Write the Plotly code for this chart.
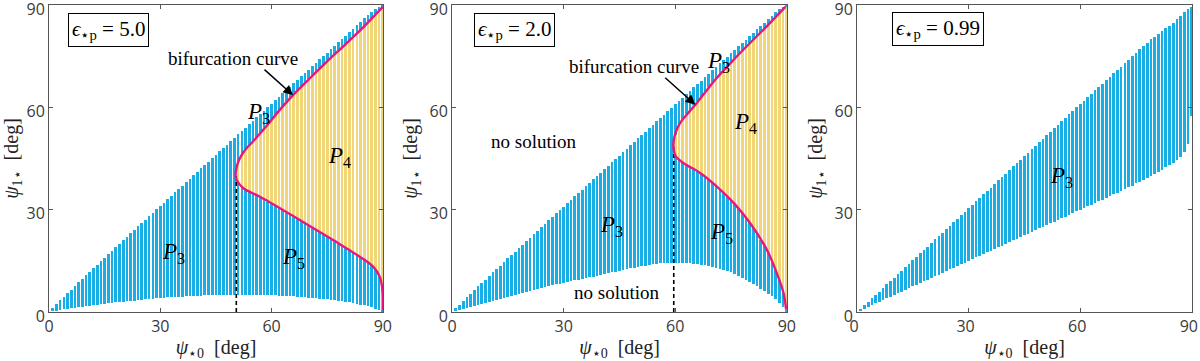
import plotly.graph_objects as go
from plotly.subplots import make_subplots

# ---------------- data ----------------
psi0 = list(range(1, 91))

# panel 1: eps = 5.0
upper_1 = [1.2, 2.3, 3.4, 4.5, 5.5, 6.6, 7.6, 8.7, 9.7, 10.8, 11.8, 12.8, 13.9, 14.9, 15.9,
           17.0, 18.0, 19.0, 20.0, 21.1, 22.1, 23.1, 24.1, 25.1, 26.1, 27.1, 28.1, 29.1, 30.1,
           31.1, 32.1, 33.1, 34.1, 35.1, 36.1, 37.1, 38.1, 39.1, 40.1, 41.1, 42.1, 43.1, 44.1,
           45.1, 46.1, 47.1, 48.1, 49.1, 50.1, 51.1, 52.1, 53.1, 54.1, 55.1, 56.1, 57.1, 58.1,
           59.1, 60.1, 61.1, 62.1, 63.1, 64.1, 65.1, 66.1, 67.1, 68.1, 69.1, 70.1, 71.1, 72.1,
           73.1, 74.1, 75.1, 76.1, 77.1, 78.1, 79.1, 80.1, 81.1, 82.1, 83.1, 84.1, 85.1, 86.1,
           87.1, 88.1, 89.0, 89.6, 90.0]
lower_1 = [0.2, 0.4, 0.6, 0.8, 1.0, 1.1, 1.3, 1.4, 1.6, 1.7, 1.9, 2.0, 2.2, 2.3, 2.4, 2.6, 2.7,
           2.8, 2.9, 3.0, 3.1, 3.2, 3.3, 3.5, 3.6, 3.7, 3.8, 3.9, 4.0, 4.1, 4.2, 4.3, 4.3, 4.4,
           4.5, 4.5, 4.6, 4.7, 4.7, 4.8, 4.8, 4.9, 4.9, 5.0, 5.0, 5.0, 5.1, 5.1, 5.1, 5.1, 5.1,
           5.1, 5.1, 5.1, 5.1, 5.0, 5.0, 5.0, 5.0, 4.9, 4.9, 4.8, 4.8, 4.7, 4.6, 4.6, 4.5, 4.4,
           4.3, 4.2, 4.1, 4.0, 3.9, 3.8, 3.7, 3.5, 3.4, 3.3, 3.1, 3.0, 2.8, 2.6, 2.4, 2.2, 2.0,
           1.7, 1.4, 1.0, 0.6, 0.0]
bif_x_1 = list(range(51, 91))
bif_hi_1 = [44.2, 46.2, 47.7, 48.9, 50.0, 51.3, 52.5, 53.8, 55.0, 56.3, 57.7, 59.0, 60.2, 61.4,
            62.6, 63.8, 64.9, 66.0, 67.1, 68.2, 69.3, 70.3, 71.4, 72.4, 73.5, 74.5, 75.6, 76.6,
            77.6, 78.6, 79.6, 80.7, 81.7, 82.8, 83.8, 84.9, 86.1, 87.2, 88.3, 89.5]
bif_lo_1 = [38.0, 36.7, 36.0, 35.4, 34.8, 34.3, 33.7, 33.1, 32.4, 31.8, 31.2, 30.6, 29.9, 29.3,
            28.7, 28.0, 27.4, 26.7, 26.1, 25.4, 24.8, 24.1, 23.5, 22.8, 22.2, 21.5, 20.8, 20.2,
            19.5, 18.8, 18.1, 17.4, 16.7, 16.0, 15.3, 14.5, 13.7, 12.4, 10.2, 0.5]
curve_x_1 = [90.0, 89.9, 89.2, 87.4, 83.8, 76.6, 67.6, 56.9, 52.4, 50.6, 50.3, 50.6, 51.2, 52.2,
             53.5, 55.0, 57.0, 59.0, 62.0, 65.8, 70.0, 75.0, 80.0, 85.0, 88.0, 90.0]
curve_y_1 = [0.6, 6.4, 10.3, 13.3, 16.2, 21.1, 27.0, 33.8, 36.3, 38.7, 40.0, 42.5, 44.5, 46.5,
             48.3, 50.0, 52.5, 55.0, 59.0, 63.6, 68.2, 73.5, 78.6, 83.8, 87.2, 89.5]
nose_1 = (50.5, 40.0)

# panel 2: eps = 2.0
upper_2 = [1.1, 2.2, 3.3, 4.3, 5.4, 6.4, 7.5, 8.5, 9.5, 10.6, 11.6, 12.6, 13.6, 14.7, 15.7,
           16.7, 17.7, 18.7, 19.8, 20.8, 21.8, 22.8, 23.8, 24.8, 25.9, 26.9, 27.9, 28.9, 29.9,
           30.9, 31.9, 32.9, 33.9, 34.9, 35.9, 36.9, 37.9, 38.9, 39.9, 40.9, 41.9, 42.9, 43.9,
           44.9, 45.9, 46.9, 47.9, 48.9, 49.9, 50.9, 51.9, 52.9, 53.9, 54.9, 55.9, 56.9, 57.9,
           58.9, 59.9, 60.9, 61.9, 62.9, 63.9, 64.9, 65.9, 66.9, 67.9, 68.9, 69.9, 70.9, 71.9,
           72.9, 73.9, 74.9, 75.9, 76.9, 77.9, 78.9, 79.9, 80.9, 81.9, 82.9, 83.9, 84.9, 85.9,
           86.9, 87.9, 88.8, 89.5, 90.0]
lower_2 = [0.3, 0.6, 0.9, 1.2, 1.5, 1.8, 2.1, 2.4, 2.7, 3.0, 3.3, 3.6, 3.9, 4.2, 4.5, 4.8, 5.1,
           5.4, 5.7, 6.0, 6.3, 6.6, 6.8, 7.1, 7.3, 7.6, 7.8, 8.1, 8.3, 8.6, 8.8, 9.0, 9.3, 9.5,
           9.7, 10.0, 10.2, 10.4, 10.7, 10.9, 11.1, 11.4, 11.6, 11.8, 12.1, 12.3, 12.5, 12.8,
           13.0, 13.2, 13.4, 13.6, 13.8, 14.0, 14.2, 14.3, 14.4, 14.5, 14.5, 14.5, 14.5, 14.4,
           14.4, 14.3, 14.2, 14.0, 13.9, 13.7, 13.5, 13.3, 13.0, 12.7, 12.4, 12.0, 11.6, 11.2,
           10.7, 10.1, 9.5, 8.9, 8.2, 7.5, 6.8, 6.1, 5.4, 4.6, 3.7, 2.7, 1.5, 0.0]
bif_x_2 = list(range(60, 91))
bif_hi_2 = [52.0, 54.6, 56.5, 58.0, 59.3, 60.6, 61.9, 63.2, 64.6, 66.0, 67.4, 68.7, 69.9, 71.1,
            72.2, 73.3, 74.4, 75.5, 76.6, 77.7, 78.8, 79.9, 81.0, 82.1, 83.2, 84.2, 85.3, 86.4,
            87.5, 88.6, 89.6]
bif_lo_2 = [45.6, 44.6, 43.8, 43.1, 42.5, 41.9, 41.3, 40.6, 39.8, 39.0, 38.0, 37.0, 35.9, 34.9,
            33.8, 32.8, 31.6, 30.4, 29.1, 27.7, 26.3, 24.7, 23.0, 21.2, 19.3, 17.2, 14.9, 12.3,
            9.3, 5.9, 0.5]
curve_x_2 = [89.8, 89.1, 87.3, 84.6, 80.1, 75.7, 71.2, 66.7, 62.2, 60.1, 59.5, 59.8, 60.6, 61.8,
             63.5, 65.4, 68.0, 71.2, 75.7, 80.1, 84.6, 89.6]
curve_y_2 = [0.7, 5.6, 11.4, 18.3, 26.1, 32.0, 36.8, 40.8, 43.7, 45.8, 48.6, 51.5, 54.0, 56.2,
             58.4, 60.8, 64.4, 68.7, 74.0, 78.9, 83.8, 89.5]
nose_2 = (59.6, 48.6)

# panel 3: eps = 0.99
upper_3 = [1.0, 2.0, 3.0, 4.0, 5.0, 6.0, 7.1, 8.1, 9.1, 10.1, 11.1, 12.1, 13.1, 14.2, 15.2,
           16.2, 17.2, 18.2, 19.2, 20.3, 21.3, 22.3, 23.3, 24.3, 25.3, 26.4, 27.4, 28.4, 29.4,
           30.4, 31.4, 32.5, 33.5, 34.5, 35.5, 36.5, 37.6, 38.6, 39.6, 40.6, 41.6, 42.7, 43.7,
           44.7, 45.7, 46.7, 47.8, 48.8, 49.8, 50.8, 51.8, 52.9, 53.9, 54.9, 55.9, 56.9, 58.0,
           59.0, 60.0, 61.0, 62.0, 63.0, 64.0, 65.0, 66.0, 67.0, 68.0, 69.0, 70.0, 71.0, 72.0,
           73.0, 74.0, 75.0, 76.0, 77.0, 78.0, 79.0, 80.0, 80.8, 81.6, 82.4, 83.2, 84.0, 84.8,
           85.8, 86.9, 88.0, 89.0, 89.6]
lower_3 = [0.5, 1.0, 1.5, 2.0, 2.5, 3.0, 3.5, 4.0, 4.5, 5.0, 5.5, 6.0, 6.5, 7.0, 7.5, 8.0, 8.5,
           9.0, 9.5, 10.0, 10.5, 11.0, 11.5, 12.0, 12.5, 13.0, 13.5, 14.0, 14.5, 15.0, 15.5,
           16.0, 16.5, 17.0, 17.5, 18.0, 18.5, 19.0, 19.5, 20.0, 20.5, 21.0, 21.5, 22.0, 22.5,
           23.0, 23.5, 24.0, 24.5, 25.0, 25.5, 26.0, 26.5, 27.0, 27.5, 28.0, 28.5, 29.0, 29.5,
           30.0, 30.5, 31.0, 31.5, 32.0, 32.5, 33.0, 33.5, 34.0, 34.5, 35.0, 35.5, 36.0, 36.6,
           37.1, 37.7, 38.2, 38.8, 39.3, 39.9, 40.5, 41.1, 41.7, 42.4, 43.1, 43.8, 44.6, 45.6,
           47.0, 49.3, 57.5]

eps_labels = ["5.0", "2.0", "0.99"]
tick_vals = [0, 30, 60, 90]
axis_range = [0, 90.05]

# ---------------- style ----------------
BLUE = "#19ade6"
YELLOW = "#f0d678"
MAGENTA = "#e8177f"
FRAME = "#555555"
SERIF = "Liberation Serif, DejaVu Serif, serif"
SANS = "Open Sans, Noto Sans, sans-serif"
BAR_W = 0.72

fig = make_subplots(rows=1, cols=3)

def add_bars(col, xs, lo, hi, color):
    fig.add_trace(go.Bar(x=xs, y=[h - l for l, h in zip(lo, hi)], base=lo, width=BAR_W,
                         marker=dict(color=color, line=dict(width=0)),
                         showlegend=False, hoverinfo="skip"), row=1, col=col)

add_bars(1, psi0, lower_1, upper_1, BLUE)
add_bars(1, bif_x_1, bif_lo_1, bif_hi_1, YELLOW)
add_bars(2, psi0, lower_2, upper_2, BLUE)
add_bars(2, bif_x_2, bif_lo_2, bif_hi_2, YELLOW)
add_bars(3, psi0, lower_3, upper_3, BLUE)

for col, (cx, cy), nose in [(1, (curve_x_1, curve_y_1), nose_1), (2, (curve_x_2, curve_y_2), nose_2)]:
    fig.add_trace(go.Scatter(x=[nose[0], nose[0]], y=[0, nose[1]], mode="lines",
                             line=dict(color="black", width=1.6, dash="4px,3px"),
                             showlegend=False, hoverinfo="skip"), row=1, col=col)
    fig.add_trace(go.Scatter(x=cx, y=cy, mode="lines", line=dict(color=MAGENTA, width=2.4, shape="spline"),
                             showlegend=False, hoverinfo="skip"), row=1, col=col)

domains = [[0.0, 0.2922], [0.3526, 0.6457], [0.7069, 1.0]]
for i in range(3):
    xa = "xaxis" if i == 0 else f"xaxis{i+1}"
    ya = "yaxis" if i == 0 else f"yaxis{i+1}"
    common = dict(range=axis_range, tickvals=tick_vals, automargin=False, ticklabeloverflow="allow",
                  ticks="inside", ticklen=4, tickcolor=FRAME, showline=True, linecolor=FRAME,
                  linewidth=1, mirror="allticks", showgrid=False, zeroline=False,
                  tickfont=dict(family=SANS, size=16, color="#3a3a3a"))
    fig.layout[xa].update(domain=domains[i], **common,
                          title=dict(text="<i>ψ</i><sub>⋆0</sub>  [deg]", standoff=4,
                                     font=dict(family=SERIF, size=20, color="#222222")))
    fig.layout[ya].update(**common, ticklabelshift=4,
                          title=dict(text="<i>ψ</i><sub>1⋆</sub>  [deg]", standoff=6,
                                     font=dict(family=SERIF, size=20, color="#222222")))
fig.layout.xaxis3.update(ticklabelshift=-3)

# epsilon boxes
eps_pos = [(16.0, 82.6), (16.8, 82.6), (21.8, 83.0)]
for i, (lab, (ex, ey)) in enumerate(zip(eps_labels, eps_pos)):
    fig.add_annotation(x=ex, y=ey, xref=f"x{i+1 if i else ''}", yref=f"y{i+1 if i else ''}",
                       text=f"<i>ϵ</i><sub>⋆p</sub> = {lab}", showarrow=False,
                       font=dict(family=SERIF, size=21, color="black"),
                       bordercolor="black", borderwidth=1, borderpad=3, bgcolor="white")

def label(col, x, y, text, size=23):
    ref = "" if col == 1 else str(col)
    fig.add_annotation(x=x, y=y, xref=f"x{ref}", yref=f"y{ref}", text=text, showarrow=False,
                       font=dict(family=SERIF, size=size, color="black"))

P = lambda n: f"<i>P</i><sub>{n}</sub>"
label(1, 56.4, 58.3, P(3)); label(1, 78.4, 45.5, P(4)); label(1, 33.5, 17.2, P(3)); label(1, 65.8, 15.7, P(5))
label(1, 49.7, 74.4, "bifurcation curve", 19)
label(2, 71.5, 73.4, P(3)); label(2, 78.8, 55.5, P(4)); label(2, 43.0, 25.1, P(3)); label(2, 72.5, 23.2, P(5))
label(2, 48.8, 72.0, "bifurcation curve", 19)
label(2, 21.9, 50.0, "no solution", 19); label(2, 44.2, 5.7, "no solution", 19)
label(3, 55.0, 39.7, P(3))

arrows = [(1, 57.7, 71.5, 65.8, 63.6), (2, 56.9, 69.1, 65.4, 60.8)]
for col, x0, y0, x1, y1 in arrows:
    ref = "" if col == 1 else str(col)
    fig.add_annotation(x=x1, y=y1, ax=x0, ay=y0, xref=f"x{ref}", yref=f"y{ref}",
                       axref=f"x{ref}", ayref=f"y{ref}", text="", showarrow=True,
                       arrowhead=2, arrowsize=1.3, arrowwidth=1.5, arrowcolor="black")

fig.update_layout(width=1200, height=361, margin=dict(l=49, r=8, t=5, b=49),
                  barmode="overlay", bargap=0, plot_bgcolor="white", paper_bgcolor="white",
                  showlegend=False)

fig.write_html("out.html", config={"displayModeBar": False},
               post_script="document.body.style.margin='0';")
